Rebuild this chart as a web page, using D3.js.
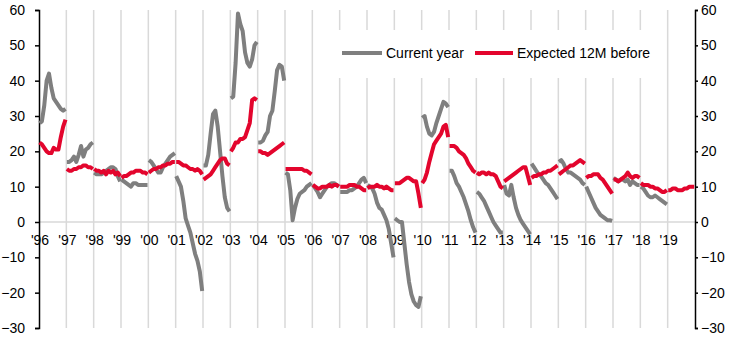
<!DOCTYPE html>
<html lang="en">
<head>
    <meta charset="UTF-8">
    <title>Current year vs expected 12M before</title>
    <script src="https://d3js.org/d3.v7.min.js"></script>
    <style>
        body {
            margin: 0;
            background-color: #fff;
        }
        .tick text, .legend text {
            font-family: "Liberation Sans", Arial, sans-serif;
            font-size: 14px;
            fill: #000;
        }
        .series {
            fill: none;
            stroke-width: 4px;
            stroke-linejoin: round;
            stroke-linecap: butt;
        }
    </style>
</head>
<body>
    <div id="chart"></div>

    <script>
        // years shown on the x axis, one segment per year for each series
        const years = d3.range(1996, 2020);
        const yearLabels = years.map(y => "'" + String(y).slice(2));
        const yTicks = [-30, -20, -10, 0, 10, 20, 30, 40, 50, 60];

        // current year growth, monthly estimates for each calendar year
        const currentYear = [
            [28, 28.5, 33, 40, 42, 38, 35, 34, 33, 32, 31.5, 32],
            [17, 17, 17.5, 18.5, 17, 19, 21.5, 18.5, 20.5, 21, 22, 22.5],
            [14, 13.5, 13.5, 13.5, 14, 14.5, 15, 15.5, 15.5, 15, 13, 11.5],
            [12, 11.5, 11, 10.5, 10, 11, 11, 10.5, 10.5, 10.5, 10.5, 10.5],
            [17.5, 17, 16, 15, 14, 14, 15.5, 16.5, 17.5, 18.5, 19, 19.5],
            [13, 11.5, 10, 6, 1, -1, -3, -6, -9, -11, -14, -19.5],
            [16, 16, 19, 25, 30.5, 31.5, 27, 20, 13, 7, 4, 3],
            [35, 35.5, 45, 59, 56, 54, 48, 45, 44, 46, 50, 51],
            [22.5, 22.5, 23, 24.5, 25.5, 30, 31.5, 37, 43, 44.5, 44, 40],
            [14, 13.5, 9, 0.5, 4, 6.5, 8, 8.5, 9, 10, 10.5, 11],
            [10.5, 9.5, 8.5, 7, 8, 9, 10, 10.5, 11, 11, 10.5, 10],
            [8.5, 8.5, 8.5, 8.5, 9, 9, 9.5, 10, 11, 12, 12.5, 11],
            [10.5, 10, 9.5, 8, 5.5, 4, 3.5, 2, 0.5, -2, -6, -10],
            [1, 0.5, 0, 0, -6, -12, -17, -20.5, -22.5, -23.5, -24, -21],
            [29.5, 30, 27, 25, 24.5, 25.5, 28, 30, 32, 34, 33.5, 32.5],
            [14.5, 14.5, 13, 11, 10, 8.5, 7, 5, 3, 0.5, -1.5, -3],
            [8.5, 8, 7, 6, 4.5, 3, 1.5, 0, -1, -2, -3, -3],
            [10.5, 8, 7.5, 10.5, 7, 4, 2, 0.5, -0.5, -1.5, -2.5, -3.5],
            [16.5, 15.5, 14.5, 13.5, 13, 12, 11, 10.5, 9.5, 8.5, 7.5, 6.5],
            [17, 17.5, 16.5, 15, 14, 14, 13.5, 13, 12.5, 12, 11, 10.5],
            [10, 8.5, 7, 5.5, 4, 3, 2, 1.5, 1, 0.5, 0.5, 0.3],
            [12.5, 12, 11.5, 12, 12, 11.5, 12, 10.5, 11.5, 11, 10.5, 10.5],
            [10, 9.5, 8.5, 7.5, 7, 7, 7.5, 7, 6.5, 6, 5.5, 5],
            []
        ];

        // growth expected 12 months before
        const expected12M = [
            [22.5, 22, 21, 20, 19.5, 19.5, 21, 20.5, 20.5, 24, 27, 29],
            [15, 14.5, 14.5, 15, 15, 15.5, 15.5, 16, 16, 15.5, 15.5, 15],
            [15, 14.5, 14.5, 14, 14.5, 13.5, 14.5, 14, 14.5, 13.5, 14, 13],
            [12.5, 13, 13, 13.5, 14, 14, 14.5, 14.5, 14.5, 14, 14, 13.5],
            [14, 14.5, 15, 15, 15.5, 15.5, 16, 16, 16.5, 16.5, 17, 17],
            [17, 17, 16.5, 16, 16, 15.5, 15, 15, 14.5, 15, 14.5, 13.5],
            [12, 12.5, 13, 13.5, 14.5, 15.5, 16.5, 17.5, 18, 18, 16.5, 16],
            [20, 21, 22.5, 22.5, 23.5, 23.5, 24, 26, 28, 34.5, 35, 34.5],
            [20, 20, 19.5, 19.5, 19, 19.5, 20, 20.5, 21, 21.5, 22, 22.5],
            [15, 15, 15, 15, 15, 15, 15, 15, 14.5, 14.5, 14, 13.5],
            [10.5, 10, 9.5, 9.5, 10, 10, 10, 10.5, 10, 10.5, 10.5, 10],
            [10, 10, 10, 10, 10.5, 10.5, 10.5, 10, 10, 9.5, 9, 9],
            [9.5, 10, 10, 10, 10.5, 10, 10, 9.5, 10, 9.5, 9, 9],
            [11, 11, 11, 11.5, 12, 12.5, 12.5, 12, 11.5, 11.5, 8, 4],
            [11, 12, 14, 17, 19.5, 22, 23, 24, 25, 27, 27.5, 24],
            [21.5, 21.5, 21.5, 21, 20, 19.5, 19, 18, 16.5, 15.5, 14.5, 14],
            [14, 13.5, 14, 14, 13.5, 14, 13.5, 13.5, 13, 11.5, 10, 9.5],
            [11.5, 12, 12.5, 13, 13.5, 14, 14.5, 15, 15.5, 15.5, 13, 10.5],
            [12.5, 13, 13, 13.5, 13.5, 14, 14, 14.5, 14.5, 15, 15.5, 16],
            [13.5, 14, 14.5, 15, 15.5, 16, 16, 16.5, 17, 17.5, 17, 16.5],
            [12.5, 13, 13, 13.5, 13.5, 13.5, 12.5, 12, 11, 10, 9, 8],
            [12, 12, 11.5, 12, 12.5, 13, 14, 13, 12.5, 13, 13, 12.5],
            [11, 10.5, 10.5, 10.5, 10, 10, 9.5, 9.5, 9, 8.5, 8.5, 9],
            [9, 9, 9.5, 9.5, 9, 9, 9, 9.5, 9.5, 10, 10, 10]
        ];

        const seriesNames = ["Current year", "Expected 12M before"];
        const seriesColors = ["#7f7f7f", "#e3052d"];

        const width = 735;
        const height = 340;
        const margin = { top: 10, right: 40, bottom: 12, left: 39 };

        const svg = d3.select("#chart")
            .append("svg")
            .attr("width", width)
            .attr("height", height);

        const x = d3.scaleLinear()
            .domain([1996, 2020])
            .range([margin.left, width - margin.right]);

        const y = d3.scaleLinear()
            .domain([-30, 60])
            .range([height - margin.bottom, margin.top]);

        // position of month i inside its year
        const monthPos = d3.scaleLinear().domain([0, 11]).range([0.02, 0.97]);

        // vertical year gridlines
        svg.append("g")
            .selectAll("line")
            .data(years.slice(1))
            .enter()
            .append("line")
            .attr("x1", d => x(d))
            .attr("x2", d => x(d))
            .attr("y1", y(60))
            .attr("y2", y(-30))
            .attr("stroke", "#d9d9d9")
            .attr("stroke-width", 1.5);

        // zero line
        svg.append("line")
            .attr("x1", x(1996))
            .attr("x2", x(2020))
            .attr("y1", y(0))
            .attr("y2", y(0))
            .attr("stroke", "#d9d9d9")
            .attr("stroke-width", 1.5);

        // year labels sit just below the zero line
        svg.append("g")
            .selectAll("text")
            .data(years)
            .enter()
            .append("text")
            .attr("class", "tick")
            .attr("x", d => x(d) + 1)
            .attr("y", y(0) + 18)
            .attr("dy", "0.35em")
            .attr("text-anchor", "middle")
            .style("font-family", "'Liberation Sans', Arial, sans-serif")
            .style("font-size", "14px")
            .text((d, i) => yearLabels[i]);

        // left and right axes
        const leftAxis = d3.axisLeft(y).tickValues(yTicks).tickSize(4).tickPadding(10);
        const rightAxis = d3.axisRight(y).tickValues(yTicks).tickSize(3).tickPadding(3);

        svg.append("g")
            .attr("transform", `translate(${x(1996)},0)`)
            .call(leftAxis)
            .call(g => g.selectAll("text").style("font-family", "'Liberation Sans', Arial, sans-serif").style("font-size", "14px"));

        svg.append("g")
            .attr("transform", `translate(${x(2020)},0)`)
            .call(rightAxis)
            .call(g => g.selectAll("text").style("font-family", "'Liberation Sans', Arial, sans-serif").style("font-size", "14px"));

        svg.selectAll(".domain").attr("stroke", "#000").attr("stroke-width", 1.5);
        svg.selectAll(".tick line").attr("stroke", "#000").attr("stroke-width", 1.5);

        // legend box covers the gridlines behind it
        const legend = svg.append("g").attr("class", "legend");
        legend.append("rect")
            .attr("x", 330)
            .attr("y", 30)
            .attr("width", 328)
            .attr("height", 48)
            .attr("fill", "#fff");

        const legendItems = [{ x: 342, w: 40 }, { x: 475, w: 38 }];
        legendItems.forEach((item, i) => {
            legend.append("line")
                .attr("x1", item.x)
                .attr("x2", item.x + item.w)
                .attr("y1", 53)
                .attr("y2", 53)
                .attr("stroke", seriesColors[i])
                .attr("stroke-width", 4);
            legend.append("text")
                .attr("x", item.x + item.w + 4)
                .attr("y", 53)
                .attr("dy", "0.35em")
                .text(seriesNames[i]);
        });

        // lines, one path per year segment
        const line = d3.line()
            .x(d => x(d.year + monthPos(d.m)))
            .y(d => y(d.v));

        [currentYear, expected12M].forEach((series, s) => {
            const segments = series.map((vals, i) => vals.map((v, m) => ({ year: years[i], m: m, v: v })))
                .filter(seg => seg.length > 0);
            svg.append("g")
                .selectAll("path")
                .data(segments)
                .enter()
                .append("path")
                .attr("class", "series")
                .attr("stroke", seriesColors[s])
                .attr("d", line);
        });
    </script>
</body>
</html>
